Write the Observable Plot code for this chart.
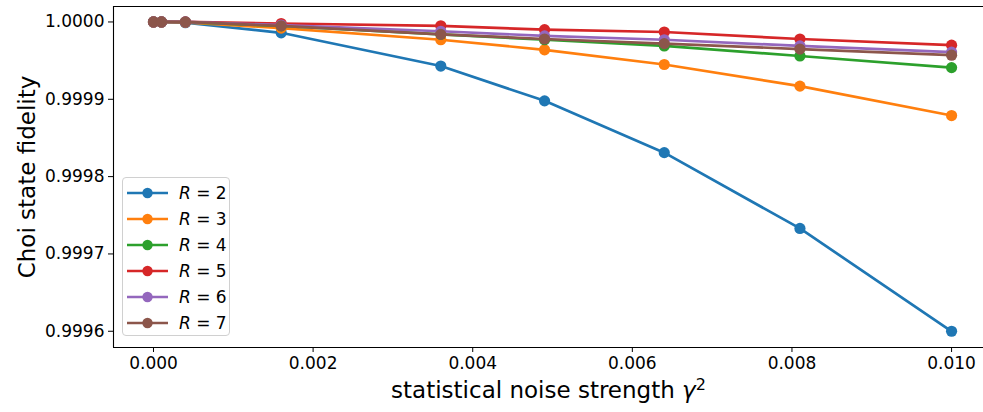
<!DOCTYPE html>
<html>
<head>
<meta charset="utf-8">
<script src="https://cdn.jsdelivr.net/npm/d3@7"></script>
<script src="https://cdn.jsdelivr.net/npm/@observablehq/plot@0.6"></script>
<style>
  html, body { margin: 0; padding: 0; background: #fff; }
  #wrap { position: relative; width: 983px; height: 412px; font-family: "DejaVu Sans", sans-serif; }
  #legend { position: absolute; left: 122px; top: 177px; width: 108px; height: 159px; box-sizing: border-box;
    border: 1px solid #d0d0d0; border-radius: 4px; background: rgba(255,255,255,0.8); padding-top: 2px; }
  .row { height: 26px; display: flex; align-items: center; font-size: 17px; color: #000; }
  .row svg { margin-left: 4px; margin-right: 11px; }
</style>
</head>
<body>
<div id="wrap"></div>
<script>
const gamma2 = [0, 0.0001, 0.0004, 0.0016, 0.0036, 0.0049, 0.0064, 0.0081, 0.01];
const seriesNames = ["R = 2", "R = 3", "R = 4", "R = 5", "R = 6", "R = 7"];
const seriesR = ["2", "3", "4", "5", "6", "7"];
const colors = ["#1f77b4", "#ff7f0e", "#2ca02c", "#d62728", "#9467bd", "#8c564b"];
const fidR2 = [1.0, 1.0, 0.999999, 0.999986, 0.999943, 0.999898, 0.999831, 0.999733, 0.999600];
const fidR3 = [1.0, 1.0, 0.9999995, 0.999992, 0.999977, 0.999964, 0.999945, 0.999917, 0.999879];
const fidR4 = [1.0, 1.0, 0.9999998, 0.999995, 0.999984, 0.999977, 0.999969, 0.999956, 0.999941];
const fidR5 = [1.0, 1.0, 1.0, 0.999998, 0.999995, 0.999990, 0.999987, 0.999978, 0.999970];
const fidR6 = [1.0, 1.0, 1.0, 0.999996, 0.999988, 0.999982, 0.999977, 0.999969, 0.999961];
const fidR7 = [1.0, 1.0, 1.0, 0.999995, 0.999984, 0.999978, 0.999972, 0.999965, 0.999957];
const xTicks = [0, 0.002, 0.004, 0.006, 0.008, 0.010];
const yTicks = [0.9996, 0.9997, 0.9998, 0.9999, 1.0000];

const allSeries = [fidR2, fidR3, fidR4, fidR5, fidR6, fidR7];
const xDomain = [-0.000501, 0.0104];
const yDomain = [0.999579, 1.00002];

const marks = [];
allSeries.forEach((vals, i) => {
  const rows = gamma2.map((g, j) => ({x: g, y: vals[j]}));
  marks.push(Plot.line(rows, {x: "x", y: "y", stroke: colors[i], strokeWidth: 2.7}));
  marks.push(Plot.dot(rows, {x: "x", y: "y", fill: colors[i], r: 5.6, stroke: "none"}));
});

const chart = Plot.plot({
  width: 983,
  height: 412,
  marginLeft: 113,
  marginRight: 0,
  marginTop: 6,
  marginBottom: 65,
  style: {fontFamily: "DejaVu Sans, sans-serif", fontSize: "17px", color: "#000", background: "#fff"},
  x: {domain: xDomain, ticks: xTicks, tickFormat: d3.format(".3f")},
  y: {domain: yDomain, ticks: yTicks, tickFormat: d3.format(".4f")},
  marks: [
    ...marks,
    Plot.ruleY([yDomain[1]], {stroke: "#000", strokeWidth: 1.1}),
    Plot.ruleY([yDomain[0]], {stroke: "#000", strokeWidth: 1.1}),
    Plot.ruleX([xDomain[0]], {stroke: "#000", strokeWidth: 1.1}),
    Plot.axisX({ticks: xTicks, tickFormat: d3.format(".3f"), tickSize: 5, tickPadding: 4, fontSize: 17,
      label: "statistical noise strength γ²", labelAnchor: "center", labelOffset: 50, labelArrow: false}),
    Plot.axisY({ticks: yTicks, tickFormat: d3.format(".4f"), tickSize: 5, tickPadding: 4, fontSize: 17,
      label: "Choi state fidelity", labelAnchor: "center", labelOffset: 95, labelArrow: false})
  ]
});

document.getElementById("wrap").appendChild(chart);

// style axis labels
const xl = chart.querySelector('g[aria-label="x-axis label"] text');
if (xl) {
  xl.style.fontSize = "23px";
  xl.textContent = "statistical noise strength ";
  const ns = "http://www.w3.org/2000/svg";
  const g = document.createElementNS(ns, "tspan");
  g.setAttribute("font-style", "italic");
  g.textContent = "γ";
  const s = document.createElementNS(ns, "tspan");
  s.setAttribute("dy", "-0.45em");
  s.setAttribute("font-size", "16px");
  s.textContent = "2";
  xl.appendChild(g);
  xl.appendChild(s);
}
const yl = chart.querySelector('g[aria-label="y-axis label"] text');
if (yl) yl.style.fontSize = "23px";

// legend
const legend = document.createElement("div");
legend.id = "legend";
seriesR.forEach((r, i) => {
  const row = document.createElement("div");
  row.className = "row";
  row.innerHTML = `<svg width="41" height="14"><line x1="0" x2="41" y1="7" y2="7" stroke="${colors[i]}" stroke-width="2.7"/><circle cx="20.5" cy="7" r="5.2" fill="${colors[i]}"/></svg><span><i>R</i> = ${r}</span>`;
  legend.appendChild(row);
});
document.getElementById("wrap").appendChild(legend);
</script>
</body>
</html>
